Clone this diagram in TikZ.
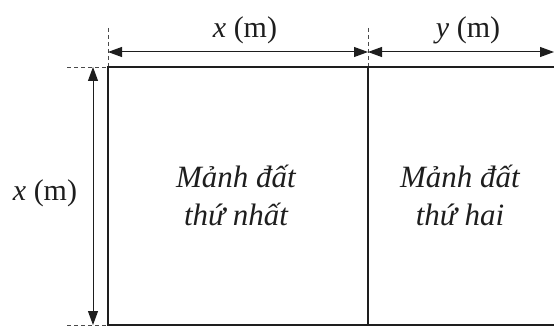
\documentclass[tikz,border=0pt]{standalone}
\usepackage{fontspec}
\setmainfont{Liberation Serif}
\definecolor{InkBlack}{HTML}{1E1E1E}
\definecolor{DashGray}{HTML}{4A4A4A}
\usetikzlibrary{arrows.meta}
\tikzset{
  plotEdge/.style={draw=InkBlack, line width=2.8pt, line cap=rect},
  midEdge/.style={draw=InkBlack, line width=1.6pt},
  dimArrow/.style={{Triangle[length=14pt,width=10pt]}-{Triangle[length=14pt,width=10pt]}, draw=InkBlack, line width=1pt},
  extLine/.style={draw=DashGray, dashed, dash pattern=on 4pt off 3pt, line width=0.7pt},
  dimLabel/.style={inner sep=0pt, anchor=base, text=InkBlack, font=\fontsize{30}{32}\selectfont},
  plotLabel/.style={inner sep=0pt, anchor=base, align=center, text=InkBlack, font=\fontsize{31}{38}\selectfont\itshape}
}
\begin{document}
\begin{tikzpicture}[x=1pt,y=-1pt]
\useasboundingbox (0,0) rectangle (554,326);
\clip (0,0) rectangle (554,326);
\coordinate (tl) at (108,67);
\coordinate (tm) at (368,67);
\coordinate (tr) at (560,67);
\coordinate (bl) at (108,325);
\coordinate (bm) at (368,325);
\coordinate (br) at (560,325);
\coordinate (tlUp) at (108,28);
\coordinate (tmUp) at (368,28);
\coordinate (tlLeft) at (67,67);
\coordinate (blLeft) at (67,325);
\coordinate (dimXa) at (108,52);
\coordinate (dimXb) at (368,52);
\coordinate (dimYb) at (554,52);
\coordinate (dimVa) at (93,67);
\coordinate (dimVb) at (93,325);

\draw[extLine] (tlUp) -- (tl);
\draw[extLine] (tmUp) -- (tm);
\draw[extLine] (tlLeft) -- (tl);
\draw[extLine] (blLeft) -- (bl);

\draw[plotEdge] (bl) -- (tl) -- (tr);
\draw[midEdge] (bl) -- (br);
\draw[midEdge] (tm) -- (bm);

\draw[dimArrow] (dimXa) -- (dimXb);
\draw[dimArrow] (dimXb) -- (dimYb);
\draw[dimArrow] (dimVa) -- (dimVb);

\node[dimLabel] (lblX) at (245,38) {\textit{x} (m)};
\node[dimLabel] (lblY) at (468,38) {\textit{y} (m)};
\node[dimLabel] (lblSide) at (45,200) {\textit{x} (m)};

\node[plotLabel] (plotOne) at (236,225) {Mảnh đất\\thứ nhất};
\node[plotLabel] (plotTwo) at (460,225) {Mảnh đất\\thứ hai};
\end{tikzpicture}
\end{document}
